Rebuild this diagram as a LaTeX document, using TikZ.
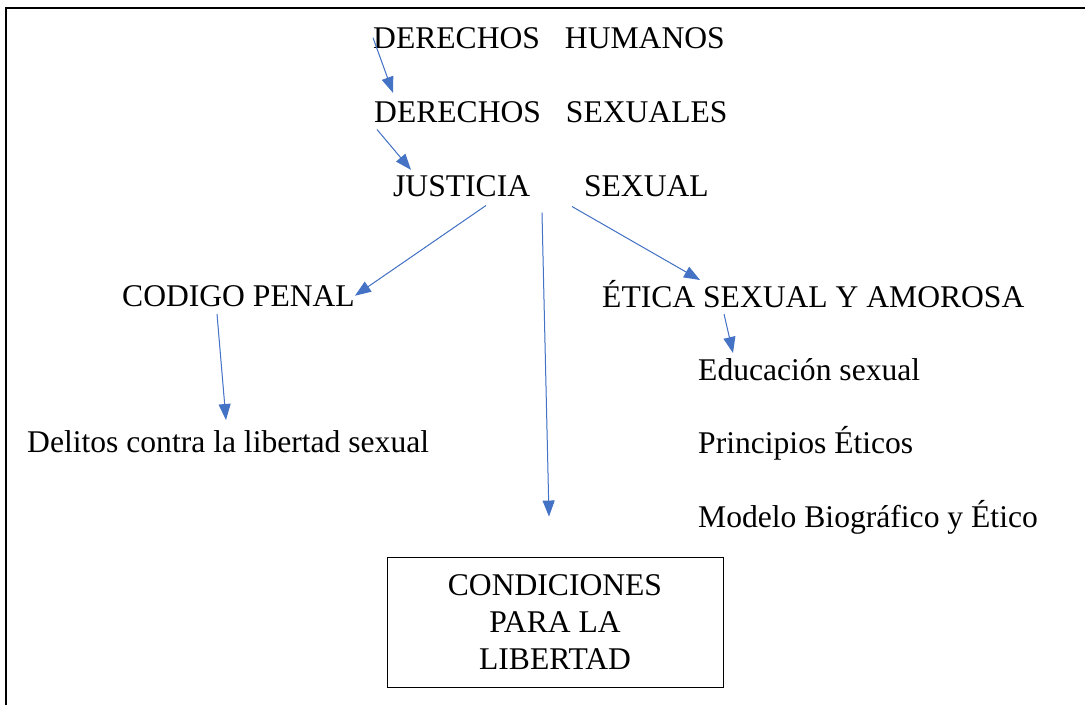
\documentclass[tikz,border=0pt]{standalone}
\usepackage{fontspec}
\setmainfont{Liberation Serif}
\usetikzlibrary{arrows.meta}

\definecolor{arrowblue}{HTML}{4472C4}
\tikzset{
	txt/.style={inner sep=0pt, anchor=base west, font=\fontsize{31.6}{37}\selectfont},
	flecha/.style={draw=arrowblue, line width=1pt, -{Triangle[length=16pt,width=12pt]}, fill=arrowblue},
}

\begin{document}
\begin{tikzpicture}[x=1pt,y=-1pt]
	\useasboundingbox (0,0) rectangle (1085,705);
	\draw[line width=1.3pt] (6,705)--(6,8)--(1085,8);

	\node[txt] (dh) at (373,48) {DERECHOS\hspace{25pt}HUMANOS};
	\node[txt] (ds) at (374,122) {DERECHOS\hspace{25pt}SEXUALES};
	\node[txt] (js) at (393,196) {JUSTICIA\hspace{54pt}SEXUAL};
	\node[txt] (cp) at (122,306) {CODIGO PENAL};
	\node[txt] (etica) at (602,307) {ÉTICA SEXUAL Y AMOROSA};
	\node[txt] (edu) at (698,380) {Educación sexual};
	\node[txt] (pri) at (698,453) {Principios Éticos};
	\node[txt] (mod) at (698,527) {Modelo Biográfico y Ético};
	\node[txt] (del) at (27,452) {Delitos contra la libertad sexual};
	\node[draw, line width=0.9pt, minimum width=336pt, minimum height=130pt, align=center,
		font=\fontsize{31.6}{37}\selectfont] (cond) at (555,622) {CONDICIONES\\PARA LA\\LIBERTAD};

	\draw[flecha] (dh.west) -- ([xshift=19pt,yshift=8pt]ds.north west);
	\draw[flecha] ([xshift=3pt,yshift=-7pt]ds.south west) -- ([xshift=18pt,yshift=5pt]js.north west);
	\draw[flecha] ([xshift=-65pt,yshift=-9pt]js.south) -- (cp.east);
	\draw[flecha] ([xshift=-9pt,yshift=-16pt]js.south) -- ([xshift=-6pt,yshift=40pt]cond.north);
	\draw[flecha] ([xshift=21pt,yshift=-10pt]js.south) -- ([xshift=98pt,yshift=27pt]etica.base west);
	\draw[flecha] ([xshift=122pt,yshift=-7pt]etica.base west) -- ([xshift=35pt,yshift=27pt]edu.base west);
	\draw[flecha] ([xshift=95pt,yshift=-8pt]cp.base west) -- ([xshift=199pt,yshift=32pt]del.base west);
\end{tikzpicture}
\end{document}
